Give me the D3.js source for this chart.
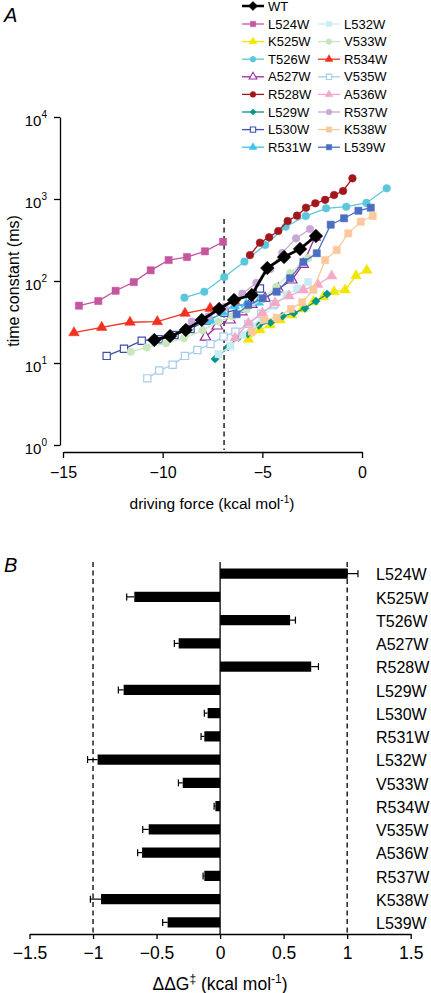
<!DOCTYPE html>
<html><head><meta charset="utf-8">
<script src="https://cdn.jsdelivr.net/npm/d3@7"></script>
<style>
html,body{margin:0;padding:0;background:#fff;}
svg{display:block;font-family:"Liberation Sans",Arial,sans-serif;}
</style></head>
<body><svg id="chart" width="431" height="993"></svg>
<script>
// ---------- Panel A data: [driving force (kcal/mol), time constant (ms)] ----------
const WT    = [[-10.42,19.1],[-9.63,21.3],[-8.84,25.3],[-8.04,33.5],[-7.17,45.6],[-6.42,58.7],[-5.53,67.5],[-4.75,144],[-3.91,196],[-3.11,246],[-2.31,354]];
const L524W = [[-14.2,50],[-13.23,57],[-12.36,76],[-11.45,97],[-10.6,135],[-9.7,180],[-8.78,196],[-7.88,230],[-6.97,301]];
const K525W = [[-5.70,19.5],[-5.12,25.3],[-4.61,29],[-4.11,33.5],[-3.52,38.5],[-3.0,45.6],[-2.44,56],[-1.94,64],[-1.40,74],[-0.85,77.6],[-0.30,116],[0.24,135]];
const T526W = [[-8.91,62.6],[-7.91,74],[-6.91,112],[-5.90,172],[-4.86,275],[-3.83,459],[-2.82,620],[-1.80,770],[-0.79,805],[0.22,895],[1.24,1350]];
const A527W = [[-7.85,20.7],[-7.26,28.3],[-6.62,33.5],[-6.03,42],[-5.53,52],[-4.86,61.5],[-4.2,80],[-3.52,103],[-2.95,160],[-2.36,344]];
const R528W = [[-5.62,207],[-5.12,293],[-4.66,341],[-4.20,407],[-3.73,539],[-3.26,626],[-2.81,783],[-2.34,887],[-1.85,977],[-1.40,1119],[-0.95,1253],[-0.48,1787]];
const L529W = [[-7.37,11.2],[-6.72,15.7],[-6.2,20.5],[-5.73,22.6],[-5.18,28.7],[-4.59,31.2],[-3.99,37.4],[-3.42,40.7],[-2.86,46.5],[-2.31,56.7],[-1.75,69.4]];
const L530W = [[-12.81,12.2],[-11.94,14.9],[-11.05,18.7],[-10.2,19.5],[-9.4,22],[-8.6,26],[-7.8,33],[-6.9,41],[-6.1,46],[-5.12,81]];
const R531W = [[-7.6,33],[-7.0,42],[-6.4,50],[-5.8,52],[-5.2,55]];
const L532W = [[-7.2,12.8],[-6.6,16],[-6.0,22],[-5.5,28],[-5.0,36],[-4.45,50],[-3.8,68],[-3.25,81],[-2.7,97]];
const V533W = [[-11.6,13.7],[-10.8,15.5],[-9.83,17.4],[-8.93,20],[-8.0,25],[-7.2,32],[-6.5,37],[-5.8,45],[-5.0,60],[-4.3,85],[-3.6,125],[-2.7,190]];
const R534W = [[-14.45,23.4],[-13.06,27.2],[-11.64,31.4],[-10.27,31.9],[-8.88,40.4],[-7.62,46.4],[-6.4,57]];
const V535W = [[-10.77,6.5],[-10.17,8.1],[-9.5,9.5],[-8.88,12.2],[-8.26,14.4],[-7.6,17],[-6.95,21],[-6.35,24],[-5.7,30],[-5.05,40],[-4.4,52]];
const A536W = [[-6.37,20.2],[-5.70,30.5],[-5.0,40.7],[-4.36,54],[-3.66,65.6],[-2.94,77.6],[-2.22,91],[-1.52,115]];
const R537W = [[-8.54,31.9],[-7.7,37],[-6.9,48],[-6.0,70],[-5.3,95],[-4.6,140],[-4.0,220],[-3.31,331],[-2.61,431]];
const K538W = [[-5.53,24.1],[-4.90,33.9],[-4.28,35.7],[-3.56,45.7],[-3.0,55],[-2.44,78],[-1.85,180],[-1.27,239],[-0.69,381],[-0.06,528],[0.54,621]];
const L539W = [[-6.29,39.3],[-5.70,51],[-4.98,61.5],[-4.28,74],[-3.61,108],[-2.94,170],[-2.27,218],[-1.57,486],[-0.90,582],[-0.18,719],[0.44,783]];

const xTicksA = [-15,-10,-5,0];
const yTicksA = [1,10,100,1000,10000];
const dashedForce = -6.92;

// ---------- Panel B data ----------
const mutants = ["L524W","K525W","T526W","A527W","R528W","L529W","L530W","R531W","L532W","V533W","R534W","V535W","A536W","R537W","K538W","L539W"];
const ddG     = [1.005,-0.675,0.551,-0.326,0.717,-0.759,-0.098,-0.124,-0.964,-0.294,-0.037,-0.562,-0.614,-0.124,-0.937,-0.413];
const ddGerr  = [0.08,0.06,0.042,0.034,0.057,0.042,0.026,0.026,0.079,0.034,0.01,0.047,0.035,0.01,0.084,0.039];
const xTicksB = [-1.5,-1,-0.5,0,0.5,1,1.5];

// ---------- styles ----------
const seriesData = {WT,L524W,K525W,T526W,A527W,R528W,L529W,L530W,R531W,L532W,V533W,R534W,V535W,A536W,R537W,K538W,L539W};
const style = {
  WT:   {c:"#000000", s:"diamondBig", fill:true},
  L524W:{c:"#c4559f", s:"square", fill:true},
  K525W:{c:"#f2e600", s:"triangle", fill:true},
  T526W:{c:"#5cc6dc", s:"circle", fill:true},
  A527W:{c:"#9a2a9e", s:"triangle", fill:false},
  R528W:{c:"#a3171c", s:"circle", fill:true},
  L529W:{c:"#00958a", s:"diamond", fill:true},
  L530W:{c:"#3e4fae", s:"square", fill:false},
  R531W:{c:"#3cc3f0", s:"triangle", fill:true},
  L532W:{c:"#c8ecf3", s:"square", fill:true},
  V533W:{c:"#c9e6bf", s:"circle", fill:true},
  R534W:{c:"#f2301f", s:"triangle", fill:true},
  V535W:{c:"#a6cbee", s:"square", fill:false},
  A536W:{c:"#f4a9c9", s:"triangle", fill:true},
  R537W:{c:"#c9a7d9", s:"circle", fill:true},
  K538W:{c:"#fdc99c", s:"square", fill:true},
  L539W:{c:"#4a6fc2", s:"square", fill:true}
};
const legendCol1 = ["L524W","K525W","T526W","A527W","R528W","L529W","L530W","R531W"];
const legendCol2 = ["L532W","V533W","R534W","V535W","A536W","R537W","K538W","L539W"];

const svg = d3.select("#chart");
const FONT = "'Liberation Sans', Arial, sans-serif";

function symbolPath(shape, scale){
  scale = scale||1;
  if(shape==="square") return d3.symbol(d3.symbolSquare, 52*scale)();
  if(shape==="triangle") return d3.symbol(d3.symbolTriangle, 48*scale)();
  if(shape==="circle") return d3.symbol(d3.symbolCircle, 46*scale)();
  if(shape==="diamond") return d3.symbol(d3.symbolSquare, 34*scale)();
  if(shape==="diamondBig") return d3.symbol(d3.symbolSquare, 92*scale)();
}
function isRot(shape){ return shape==="diamond"||shape==="diamondBig"; }

// ---------- Panel A ----------
const xA = d3.scaleLinear().domain([-15,0]).range([63,362]);
const yA = d3.scaleLog().domain([1,10000]).range([445,117]);

svg.append("text").attr("x",4).attr("y",22).attr("font-size",20).attr("font-style","italic").attr("font-family",FONT).text("A");

// y axis
const gy = svg.append("g").attr("transform","translate(60,0)")
  .call(d3.axisLeft(yA).tickValues(yTicksA).tickFormat(()=>"10").tickSize(6).tickSizeOuter(0));
gy.select(".domain").attr("stroke","#000").attr("stroke-width",1.3);
gy.selectAll(".tick line").attr("stroke","#000").attr("stroke-width",1.3);
gy.selectAll(".tick text").attr("font-size",15).attr("font-family",FONT).attr("fill","#000")
  .attr("x",-13).attr("dy","0.55em")
  .each(function(d){
    d3.select(this).append("tspan").attr("font-size",10).attr("dy","-0.75em").text(Math.round(Math.log10(d)));
  });

// x axis
const gx = svg.append("g").attr("transform","translate(0,452)")
  .call(d3.axisBottom(xA).tickValues(xTicksA).tickFormat(d3.format("d")).tickSize(6).tickSizeOuter(0));
gx.select(".domain").attr("stroke","#000").attr("stroke-width",1.3);
gx.selectAll(".tick line").attr("stroke","#000").attr("stroke-width",1.3);
gx.selectAll(".tick text").attr("font-size",16).attr("font-family",FONT).attr("fill","#000").attr("dy","1.05em");

const tA = svg.append("text").attr("x",212).attr("y",509).attr("text-anchor","middle").attr("font-size",15.5).attr("font-family",FONT);
tA.append("tspan").text("driving force (kcal mol");
tA.append("tspan").attr("font-size",10).attr("dy",-6).text("-1");
tA.append("tspan").attr("dy",6).text(")");

svg.append("text").attr("transform","translate(19,281) rotate(-90)").attr("text-anchor","middle")
  .attr("font-size",16).attr("font-family",FONT).text("time constant (ms)");

// dashed line
svg.append("line").attr("x1",xA(dashedForce)).attr("x2",xA(dashedForce)).attr("y1",219).attr("y2",450)
  .attr("stroke","#000").attr("stroke-width",1.3).attr("stroke-dasharray","5,3.5");

const line = d3.line().x(d=>xA(d[0])).y(d=>yA(d[1]));
const drawOrder = ["L524W","K525W","T526W","A527W","R528W","L529W","L530W","R531W","L532W","V533W","R534W","V535W","A536W","R537W","K538W","L539W","WT"];
drawOrder.forEach(name=>{
  const st = style[name], data = seriesData[name];
  const g = svg.append("g");
  g.append("path").datum(data).attr("d",line).attr("fill","none").attr("stroke",st.c)
    .attr("stroke-width", name==="WT"?2.8:1.3);
  g.selectAll("path.m").data(data).join("path").attr("class","m")
    .attr("d",symbolPath(st.s))
    .attr("transform",d=>`translate(${xA(d[0])},${yA(d[1])})${isRot(st.s)?" rotate(45)":""}`)
    .attr("fill",st.fill?st.c:"#fff").attr("stroke",st.c).attr("stroke-width",st.fill?0.5:1.2);
});

// legend
function legendItem(name,x,y){
  const st = style[name];
  svg.append("line").attr("x1",x).attr("x2",x+22).attr("y1",y).attr("y2",y).attr("stroke",st.c).attr("stroke-width",name==="WT"?2.5:1.3);
  svg.append("path").attr("d",symbolPath(st.s, name==="WT"?0.45:0.55))
    .attr("transform",`translate(${x+11},${y})${isRot(st.s)?" rotate(45)":""}`)
    .attr("fill",st.fill?st.c:"#fff").attr("stroke",st.c).attr("stroke-width",st.fill?0.5:1.1);
  svg.append("text").attr("x",x+26).attr("y",y).attr("dy","0.36em").attr("font-size",13).attr("font-family",FONT).text(name);
}
legendItem("WT",242,6);
legendCol1.forEach((n,i)=>legendItem(n,242,24+i*17.6));
legendCol2.forEach((n,i)=>legendItem(n,318,24+i*17.6));

// ---------- Panel B ----------
const xB = d3.scaleLinear().domain([-1.5,1.5]).range([29.5,410.7]);
const yB = d3.scaleBand().domain(mutants).range([562,934]).paddingInner(0.56).paddingOuter(0.28);

svg.append("text").attr("x",4).attr("y",572).attr("font-size",20).attr("font-style","italic").attr("font-family",FONT).text("B");

[-1,1].forEach(v=>{
  svg.append("line").attr("x1",xB(v)).attr("x2",xB(v)).attr("y1",562).attr("y2",934)
    .attr("stroke","#000").attr("stroke-width",1.3).attr("stroke-dasharray","5,3.5");
});

const bars = svg.append("g");
mutants.forEach((m,i)=>{
  const v = ddG[i], e = ddGerr[i];
  const yc = yB(m)+yB.bandwidth()/2;
  bars.append("rect").attr("x",xB(Math.min(0,v))).attr("width",Math.abs(xB(v)-xB(0)))
    .attr("y",yB(m)).attr("height",yB.bandwidth()).attr("fill","#000");
  const xe = xB(v + Math.sign(v)*e);
  bars.append("line").attr("x1",xB(v)).attr("x2",xe).attr("y1",yc).attr("y2",yc).attr("stroke","#000").attr("stroke-width",1.2);
  bars.append("line").attr("x1",xe).attr("x2",xe).attr("y1",yc-3.5).attr("y2",yc+3.5).attr("stroke","#000").attr("stroke-width",1.2);
  svg.append("text").attr("x",376).attr("y",yc).attr("dy","0.42em").attr("font-size",16).attr("font-family",FONT).text(m);
});

svg.append("line").attr("x1",xB(0)).attr("x2",xB(0)).attr("y1",562).attr("y2",934).attr("stroke","#000").attr("stroke-width",1.3);

const gxB = svg.append("g").attr("transform","translate(0,934)")
  .call(d3.axisBottom(xB).tickValues(xTicksB).tickFormat(d3.format("~g")).tickSize(5).tickSizeOuter(0));
gxB.select(".domain").attr("stroke","#000").attr("stroke-width",1.3);
gxB.selectAll(".tick line").attr("stroke","#000").attr("stroke-width",1.3);
gxB.selectAll(".tick text").attr("font-size",17.5).attr("font-family",FONT).attr("fill","#000").attr("dy","0.95em");

const tB = svg.append("text").attr("x",220).attr("y",990).attr("text-anchor","middle").attr("font-size",17.5).attr("font-family",FONT);
tB.append("tspan").text("ΔΔG");
tB.append("tspan").attr("font-size",12).attr("dy",-7).text("‡");
tB.append("tspan").attr("dy",7).text(" (kcal mol");
tB.append("tspan").attr("font-size",12).attr("dy",-7).text("-1");
tB.append("tspan").attr("dy",7).text(")");
</script></body></html>
